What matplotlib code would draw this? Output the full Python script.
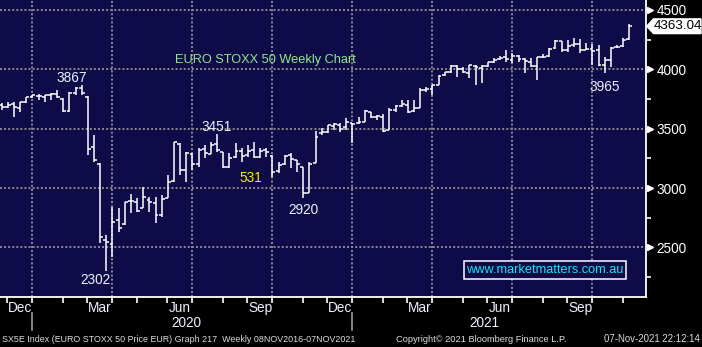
import numpy as np
import pandas as pd
import matplotlib
matplotlib.use("Agg")
import matplotlib.pyplot as plt
from matplotlib.patches import Polygon
from matplotlib.transforms import blended_transform_factory

plt.rcParams['font.family'] = ['Liberation Sans']

# weekly bars, SX5E, week ending Fridays
weeks = pd.date_range('2019-11-22', periods=103, freq='W-FRI')

opens = [3700, 3685, 3705, 3675, 3725, 3768, 3775, 3765, 3782, 3795,
         3750, 3650, 3800, 3845, 3770, 3345, 3200, 2560, 2530, 2731,
         2697, 2890, 2880, 2830, 2900, 2870, 2775, 2920, 3060, 3375,
         3150, 3290, 3200, 3330, 3290, 3370, 3300, 3180, 3260, 3310,
         3280, 3320, 3265, 3320, 3270, 3140, 3200, 3275, 3235, 3180,
         2960, 3210, 3460, 3470, 3520, 3530, 3510, 3545, 3545, 3560,
         3640, 3600, 3600, 3490, 3660, 3695, 3700, 3650, 3675, 3825,
         3835, 3870, 3950, 3980, 4030, 4000, 3970, 4030, 4010, 4030,
         4060, 4085, 4100, 4080, 4110, 4085, 4065, 4030, 4100, 4110,
         4180, 4235, 4160, 4205, 4215, 4165, 4170, 4160, 4040, 4080,
         4185, 4195, 4255]
highs = [3715, 3728, 3722, 3728, 3770, 3784, 3790, 3784, 3800, 3826,
         3756, 3805, 3849, 3867, 3775, 3447, 3208, 2604, 2843, 2829,
         2885, 2947, 2913, 3011, 2927, 2927, 2941, 3110, 3390, 3380,
         3306, 3295, 3335, 3362, 3390, 3451, 3306, 3292, 3380, 3337,
         3363, 3390, 3335, 3335, 3278, 3222, 3278, 3292, 3236, 3180,
         3216, 3480, 3508, 3531, 3545, 3545, 3587, 3545, 3601, 3657,
         3643, 3615, 3620, 3671, 3700, 3742, 3742, 3742, 3840, 3854,
         3868, 3952, 3980, 4037, 4037, 4022, 4037, 4037, 4037, 4065,
         4093, 4112, 4163, 4135, 4121, 4093, 4093, 4107, 4129, 4177,
         4247, 4240, 4247, 4261, 4256, 4219, 4211, 4205, 4107, 4191,
         4205, 4261, 4380]
lows = [3660, 3675, 3601, 3643, 3714, 3756, 3745, 3728, 3742, 3756,
        3643, 3640, 3784, 3784, 3279, 3222, 2535, 2302, 2420, 2633,
        2690, 2792, 2800, 2829, 2802, 2703, 2759, 2913, 3053, 3110,
        3053, 3152, 3180, 3253, 3285, 3306, 3166, 3170, 3250, 3222,
        3264, 3250, 3250, 3264, 3096, 3130, 3195, 3172, 3138, 2920,
        2955, 3208, 3447, 3461, 3489, 3475, 3489, 3377, 3540, 3559,
        3587, 3573, 3475, 3489, 3643, 3686, 3630, 3643, 3671, 3812,
        3784, 3868, 3943, 3972, 3936, 3970, 3924, 3868, 3882, 4020,
        4051, 4079, 4065, 4051, 4065, 3966, 4022, 3910, 4093, 4107,
        4175, 4150, 4149, 4191, 4135, 4163, 4037, 4031, 3965, 4022,
        4177, 4191, 4250]
closes = [3680, 3703, 3680, 3722, 3765, 3780, 3773, 3780, 3792, 3765,
          3645, 3798, 3840, 3800, 3329, 3232, 2586, 2548, 2716, 2662,
          2880, 2888, 2809, 2928, 2880, 2770, 2905, 3050, 3384, 3153,
          3297, 3206, 3320, 3296, 3366, 3320, 3174, 3253, 3314, 3273,
          3310, 3260, 3316, 3300, 3137, 3190, 3273, 3245, 3204, 2958,
          3200, 3430, 3470, 3527, 3540, 3500, 3560, 3540, 3553, 3645,
          3600, 3603, 3481, 3656, 3690, 3704, 3637, 3670, 3830, 3837,
          3867, 3946, 3978, 4032, 3999, 3975, 4034, 4017, 4025, 4058,
          4080, 4095, 4083, 4115, 4084, 4068, 4030, 4100, 4100, 4175,
          4240, 4160, 4200, 4210, 4160, 4170, 4158, 4037, 4078, 4183,
          4189, 4250, 4363.04]

# turning points: (bar index, use high?, text offset in bars, text offset in points)
pivots = [(13, True, -1.7, 63), (35, True, 0.0, 63), (17, False, -1.7, -77),
          (49, False, 0.1, -105), (98, False, 0.0, -116)]

bg = '#0f0b48'
grid_col = '#8a8a8a'
txt_col = '#eef0ff'
fs = 9.2

fig = plt.figure(figsize=(7.02, 3.47), dpi=100, facecolor='black')
ax = fig.add_axes([0, 1 - 297 / 347, 645.7 / 702, 297 / 347])
ax.set_facecolor(bg)

x = np.arange(len(weeks))
ax.vlines(x, lows, highs, color='white', lw=1.1, zorder=3)
ax.hlines(opens, x - 0.47, x, color='white', lw=1.1, zorder=3)
ax.hlines(closes, x, x + 0.47, color='white', lw=1.1, zorder=3)

ax.set_xlim(-0.28, 104.66)
ax.set_ylim(2082, 4584)

# month ends fall on the last weekly bar of each month
month = weeks.to_period('M')
month_end = np.array([i for i in range(len(weeks) - 1) if month[i] != month[i + 1]])
quarter_end = np.array([i for i in month_end if weeks[i].month in (3, 6, 9, 12)])
grid_x = quarter_end - 0.07

ax.set_xticks(grid_x)
ax.set_xticks(month_end - 0.07, minor=True)
ax.set_xticklabels([])
ax.tick_params(axis='x', which='both', colors='white', length=4, width=1.2, direction='out')

yt = [2500, 3000, 3500, 4000, 4500]
ax.yaxis.tick_right()
ax.set_yticks(yt)
ax.set_yticks([2250, 2750, 3250, 3750, 4250], minor=True)
ax.tick_params(axis='y', which='minor', colors='white', length=3.5, width=1.2, direction='out')
ax.tick_params(axis='y', which='major', colors='white', length=0, pad=8, labelsize=fs + 0.6)

for y in yt:
    ax.axhline(y, color=grid_col, lw=1.4, ls=(0, (1, 1.1)), zorder=1)
for gx in grid_x:
    ax.axvline(gx, color=grid_col, lw=1.4, ls=(0, (1, 1.1)), zorder=1)

# small pointers on the value axis
ty = ax.get_yaxis_transform()
ax.plot([1.0065] * len(yt), yt, marker='>', ls='none', ms=5, color='white',
        transform=ty, clip_on=False)

for side in ['top', 'left']:
    ax.spines[side].set_visible(False)
for side in ['bottom', 'right']:
    ax.spines[side].set_color('white')
    ax.spines[side].set_linewidth(1.3)

# month and year labels under the axis
tx = ax.get_xaxis_transform()
names = {3: 'Mar', 6: 'Jun', 9: 'Sep', 12: 'Dec'}
prev = month_end[0]
for i in month_end[1:]:
    if weeks[i].month in names:
        ax.text((prev + i) / 2, -0.036, names[weeks[i].month], transform=tx,
                ha='center', va='center', color=txt_col, fontsize=fs + 0.6)
    prev = i
for yr in (2020, 2021):
    idx = x[weeks.year == yr]
    ax.text((idx[0] + idx[-1]) / 2 - 1.5, -0.0875, str(yr), transform=tx,
            ha='center', va='center', color=txt_col, fontsize=fs + 0.6)
dec_lines = [i - 0.07 for i in quarter_end if weeks[i].month == 12]
for gx in dec_lines:
    ax.plot([gx, gx], [-0.054, -0.111], color='#9a9a9a', lw=1.2,
            transform=tx, clip_on=False)

# turning point labels
for i, top, dx, dy in pivots:
    val = highs[i] if top else lows[i]
    ax.text(i + dx, val + dy, f'{val:.0f}', ha='center', va='center',
            color=txt_col, fontsize=fs + 0.6)
ax.text(40.5, 3085, '531', ha='center', va='center', color='#f4f400', fontsize=fs + 0.6)

ax.text(265 / 645.7, 0.798, 'EURO STOXX 50 Weekly Chart', transform=ax.transAxes,
        ha='center', va='center', color='#8fe88f', fontsize=fs)

ax.text(545 / 645.7, 1 - 270 / 297, 'www.marketmatters.com.au', transform=ax.transAxes,
        ha='center', va='center', color='#10e8f0', fontsize=fs, zorder=5,
        bbox=dict(boxstyle='square,pad=0.2', fc=bg, ec='white', lw=1.1))

# last price tag
last = closes[-1]
bt = blended_transform_factory(fig.transFigure, ax.transData)
h = 62
tag = Polygon([(646.7 / 702, last), (653.5 / 702, last + h), (701 / 702, last + h),
               (701 / 702, last - h), (653.5 / 702, last - h)],
              closed=True, fc='white', ec='white', transform=bt, clip_on=False)
ax.add_patch(tag)
ax.text(653.5 / 702, last, f'{last:.2f}', transform=bt, ha='left', va='center',
        color='black', fontsize=fs + 0.4, clip_on=False)

# footer
foot = dict(color='#dcdcdc', va='center')
fig.text(2 / 702, 1 - 339 / 347,
         'SX5E Index (EURO STOXX 50 Price EUR) Graph 217  Weekly 08NOV2016-07NOV2021',
         ha='left', fontsize=6.4, **foot)
fig.text(396 / 702, 1 - 339 / 347, 'Copyright\u00a9 2021 Bloomberg Finance L.P.',
         ha='left', fontsize=6.7, **foot)
fig.text(700 / 702, 1 - 339 / 347, '07-Nov-2021 22:12:14', ha='right', fontsize=6.9, **foot)

fig.savefig('out.png', dpi=100, facecolor='black')
